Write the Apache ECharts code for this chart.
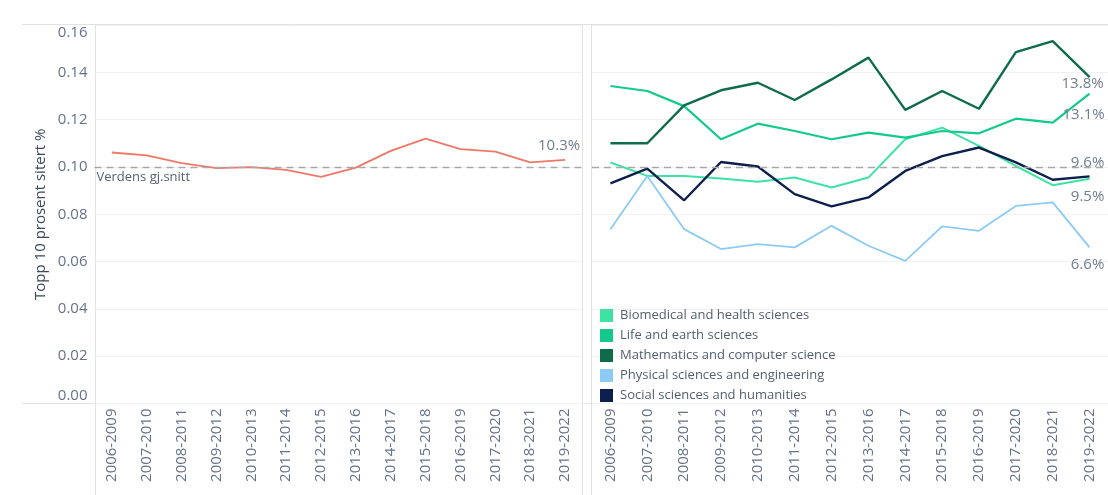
<!DOCTYPE html>
<html><head><meta charset="utf-8">
<script src="https://cdn.jsdelivr.net/npm/echarts@6/dist/echarts.min.js"></script>
<style>html,body{margin:0;padding:0;background:#fff}#c{width:1108px;height:495px}</style>
</head><body><div id="c"></div>
<script>
const categories = ['2006-2009','2007-2010','2008-2011','2009-2012','2010-2013','2011-2014','2012-2015','2013-2016','2014-2017','2015-2018','2016-2019','2017-2020','2018-2021','2019-2022'];
const norway = [0.1061,0.1049,0.1016,0.0995,0.0999,0.0988,0.0958,0.0997,0.1068,0.1120,0.1075,0.1065,0.1019,0.1030];
const biomedical = [0.1019,0.0962,0.0962,0.0951,0.0937,0.0955,0.0913,0.0955,0.1117,0.1166,0.1089,0.1004,0.0923,0.0950];
const lifeEarth = [0.1342,0.1321,0.1257,0.1117,0.1183,0.1152,0.1117,0.1145,0.1124,0.1152,0.1142,0.1204,0.1187,0.1310];
const mathComp = [0.1100,0.1100,0.1260,0.1324,0.1356,0.1283,0.1370,0.1462,0.1241,0.1321,0.1246,0.1485,0.1532,0.1380];
const physical = [0.0737,0.0962,0.0737,0.0653,0.0674,0.0660,0.0751,0.0667,0.0603,0.0749,0.0730,0.0835,0.0850,0.0660];
const social = [0.0931,0.0993,0.0859,0.1021,0.1002,0.0885,0.0833,0.0871,0.0983,0.1046,0.1082,0.1019,0.0946,0.0960];
const worldAverage = 0.10;
const yMin = 0, yMax = 0.16, yStep = 0.02;

const FONT = 'Open Sans';
const txt = '#66728a';
const frame = '#e2e2e2';

function withEndLabel(arr, offset) {
  return arr.map((v, i) => i === arr.length - 1 ? {
    value: v,
    label: { show: true, position: 'inside', offset: offset, align: 'center', verticalAlign: 'middle',
      formatter: p => (p.value * 100).toFixed(1) + '%', color: '#717d90', fontSize: 15, fontFamily: FONT }
  } : v);
}

const chart = echarts.init(document.getElementById('c'), null, { renderer: 'canvas' });

const xAxisBase = {
  type: 'category', data: categories, boundaryGap: true,
  axisLine: { show: false }, axisTick: { show: false },
  axisLabel: { rotate: 90, interval: 0, fontSize: 15, color: txt, fontFamily: FONT, margin: 5 }
};
const yAxisBase = {
  type: 'value', min: yMin, max: yMax, interval: yStep,
  axisLine: { show: false }, axisTick: { show: false },
  splitLine: { lineStyle: { color: '#f1f1f1', width: 1 } }
};
const lineBase = { type: 'line', symbol: 'circle', symbolSize: 0.1, showSymbol: true, silent: true, z: 3 };

const series = [
  Object.assign({}, lineBase, {
    name: 'Norge', xAxisIndex: 0, yAxisIndex: 0, data: withEndLabel(norway, [-6, -14]),
    lineStyle: { color: '#ef7868', width: 1.8 }, itemStyle: { color: '#ef7868' },
    markLine: { silent: true, symbol: 'none', data: [{ yAxis: worldAverage }],
      lineStyle: { color: '#a9a9a9', type: [7, 5], width: 1.3 },
      label: { show: true, position: 'insideStartBottom', formatter: 'Verdens gj.snitt', color: '#556070', fontSize: 13, fontFamily: FONT, distance: [2, 4] } }
  }),
  Object.assign({}, lineBase, {
    name: 'Biomedical and health sciences', xAxisIndex: 1, yAxisIndex: 1, data: withEndLabel(biomedical, [-2, 18]),
    lineStyle: { color: '#3ee3a4', width: 2 }, itemStyle: { color: '#3ee3a4' },
    markLine: { silent: true, symbol: 'none', data: [{ yAxis: worldAverage }],
      lineStyle: { color: '#a9a9a9', type: [7, 5], width: 1.3 }, label: { show: false } }
  }),
  Object.assign({}, lineBase, {
    name: 'Life and earth sciences', xAxisIndex: 1, yAxisIndex: 1, data: withEndLabel(lifeEarth, [-6, 21]),
    lineStyle: { color: '#14c98b', width: 2.2 }, itemStyle: { color: '#14c98b' }
  }),
  Object.assign({}, lineBase, {
    name: 'Mathematics and computer science', xAxisIndex: 1, yAxisIndex: 1, data: withEndLabel(mathComp, [-7, 7]),
    lineStyle: { color: '#0f6c4b', width: 2.4 }, itemStyle: { color: '#0f6c4b' }
  }),
  Object.assign({}, lineBase, {
    name: 'Physical sciences and engineering', xAxisIndex: 1, yAxisIndex: 1, data: withEndLabel(physical, [-2, 17]),
    lineStyle: { color: '#8ccbf4', width: 1.8 }, itemStyle: { color: '#8ccbf4' }
  }),
  Object.assign({}, lineBase, {
    name: 'Social sciences and humanities', xAxisIndex: 1, yAxisIndex: 1, data: withEndLabel(social, [-2, -14]),
    lineStyle: { color: '#0c1f4d', width: 2.4 }, itemStyle: { color: '#0c1f4d' }
  })
];

chart.setOption({
  animation: false,
  backgroundColor: '#ffffff',
  textStyle: { fontFamily: FONT },
  grid: [
    { left: 94.5, top: 25, width: 488, height: 378.5, containLabel: false },
    { left: 592, top: 25, width: 518, height: 378.5, containLabel: false }
  ],
  xAxis: [
    Object.assign({}, xAxisBase, { gridIndex: 0 }),
    Object.assign({}, xAxisBase, { gridIndex: 1 })
  ],
  yAxis: [
    Object.assign({}, yAxisBase, { gridIndex: 0,
      name: 'Topp 10 prosent sitert %', nameLocation: 'middle', nameGap: 46, nameRotate: 90,
      nameTextStyle: { color: '#3e4858', fontSize: 15, fontFamily: FONT },
      axisLabel: { show: true, color: txt, fontSize: 15, fontFamily: FONT, margin: 7,
        formatter: v => v.toFixed(2), verticalAlignMaxLabel: 'top', verticalAlignMinLabel: 'bottom' } }),
    Object.assign({}, yAxisBase, { gridIndex: 1, axisLabel: { show: false } })
  ],
  legend: {
    orient: 'vertical', left: 595, top: 304, itemWidth: 13, itemHeight: 13, itemGap: 7,
    icon: 'rect', selectedMode: false,
    data: ['Biomedical and health sciences','Life and earth sciences','Mathematics and computer science','Physical sciences and engineering','Social sciences and humanities'],
    textStyle: { color: '#545e6f', fontSize: 13, lineHeight: 13, fontFamily: FONT, padding: [0, 0, 0, 2] }
  },
  graphic: [
    { type: 'line', shape: { x1: 22, y1: 24.5, x2: 1108, y2: 24.5 }, style: { stroke: frame, lineWidth: 1 }, silent: true },
    { type: 'line', shape: { x1: 22, y1: 403.5, x2: 1108, y2: 403.5 }, style: { stroke: frame, lineWidth: 1 }, silent: true },
    { type: 'line', shape: { x1: 95.5, y1: 24, x2: 95.5, y2: 495 }, style: { stroke: frame, lineWidth: 1 }, silent: true },
    { type: 'line', shape: { x1: 582.5, y1: 24, x2: 582.5, y2: 495 }, style: { stroke: frame, lineWidth: 1 }, silent: true },
    { type: 'line', shape: { x1: 591.5, y1: 24, x2: 591.5, y2: 495 }, style: { stroke: frame, lineWidth: 1 }, silent: true }
  ],
  series: series
});
</script>
</body></html>
